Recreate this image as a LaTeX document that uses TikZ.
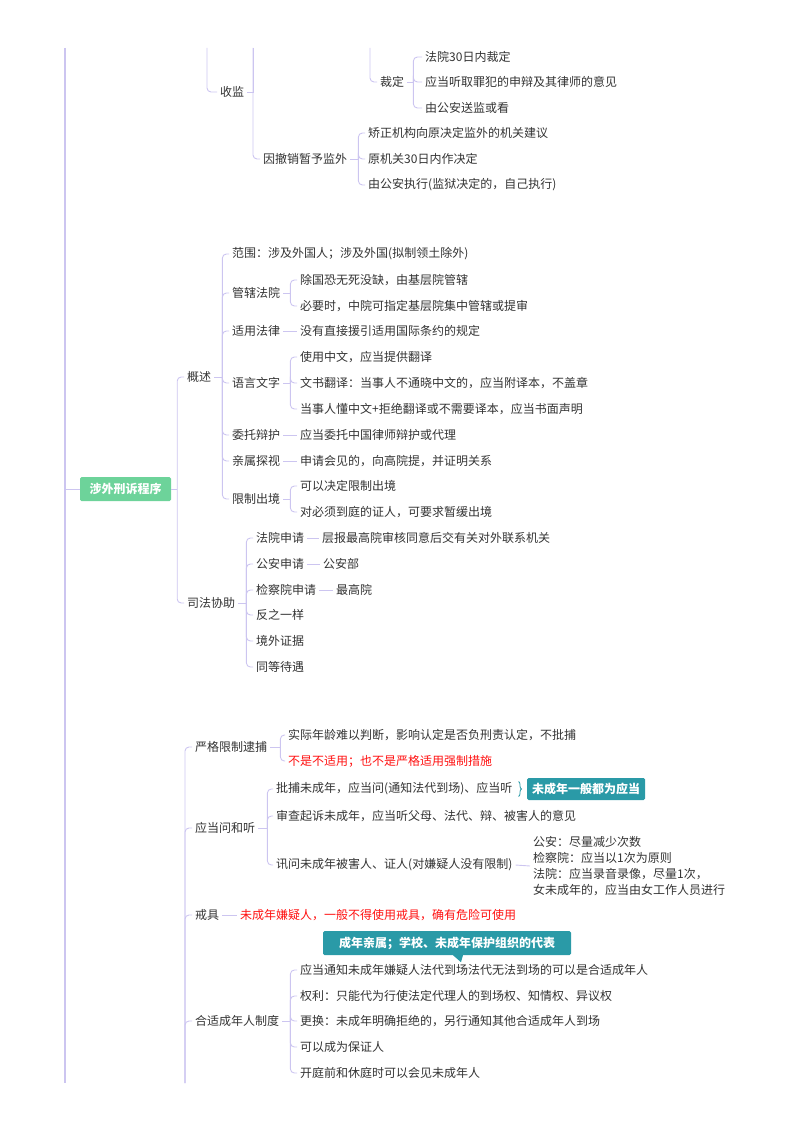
\documentclass[tikz,border=0pt]{standalone}
\usepackage{fontspec}
\newfontfamily\cjk{Noto Sans CJK SC}
\usepackage{tikz}
\usetikzlibrary{positioning,decorations.pathreplacing}
\usepackage{xcolor}
\definecolor{linecol}{HTML}{CCC5F0}
\definecolor{txtcol}{HTML}{333333}
\definecolor{rootgreen}{HTML}{6DD39A}
\definecolor{tealbox}{HTML}{2A9AA7}
\definecolor{hotred}{HTML}{FF1010}
\tikzset{
  topic/.style={anchor=west, inner xsep=3pt, inner ysep=2pt, text=txtcol,
    font=\cjk\fontsize{12}{14}\selectfont},
  redtopic/.style={topic, text=hotred},
  rootbox/.style={fill=rootgreen, rounded corners=1.5pt, text=white, inner sep=0pt,
    minimum width=91pt, minimum height=24pt, font=\cjk\bfseries\fontsize{12}{14}\selectfont},
  tagbox/.style={fill=tealbox, rounded corners=1.5pt, text=white, inner xsep=5pt,
    minimum height=22pt, font=\cjk\bfseries\fontsize{12}{14}\selectfont},
  branch/.style={draw=linecol, line width=0.9pt},
  elbow/.style={branch, rounded corners=4pt},
  trunk/.style={draw=linecol, line width=1.8pt},
}
\begin{document}
\begin{tikzpicture}[x=1pt, y=-1pt]
    \useasboundingbox (0,0) rectangle (800,1132);

    % Lines cut off by the page edge
    \coordinate (mtop)  at (65,48);
    \coordinate (mbot)  at (65,1083);
    \coordinate (sjtop) at (207,48);
    \coordinate (sjup)  at (253,48);
    \coordinate (cdtop) at (370,48);
    \coordinate (wbot)  at (185,1083);

    % Top part: shoujian
    \node[topic] (sj)  at (217,92)  {收监};
    \node[topic] (cd)  at (377,82)  {裁定};
    \node[topic] (cd1) at (422,57)  {法院30日内裁定};
    \node[topic] (cd2) at (422,82)  {应当听取罪犯的申辩及其律师的意见};
    \node[topic] (cd3) at (422,108) {由公安送监或看};
    \node[topic] (yc)  at (260,159) {因撤销暂予监外};
    \node[topic] (yc1) at (365,133) {矫正机构向原决定监外的机关建议};
    \node[topic] (yc2) at (365,159) {原机关30日内作决定};
    \node[topic] (yc3) at (365,185) {由公安执行(监狱决定的，自己执行)};

    % Root
    \node[rootbox] (rt) at (125.5,489) {涉外刑诉程序};
    \node[topic] (gs) at (184,377) {概述};
    \node[topic] (sf) at (184,603) {司法协助};

    % Gaishu
    \node[topic] (fw)  at (229,254) {范围：涉及外国人；涉及外国(拟制领土除外)};
    \node[topic] (gx)  at (229,293) {管辖法院};
    \node[topic] (gx1) at (297,280) {除国恐无死没缺，由基层院管辖};
    \node[topic] (gx2) at (297,306) {必要时，中院可指定基层院集中管辖或提审};
    \node[topic] (sy)  at (229,331) {适用法律};
    \node[topic] (sy1) at (297,331) {没有直接援引适用国际条约的规定};
    \node[topic] (yy)  at (229,383) {语言文字};
    \node[topic] (yy1) at (297,357) {使用中文，应当提供翻译};
    \node[topic] (yy2) at (297,383) {文书翻译：当事人不通晓中文的，应当附译本，不盖章};
    \node[topic] (yy3) at (297,409) {当事人懂中文+拒绝翻译或不需要译本，应当书面声明};
    \node[topic] (wt)  at (229,435) {委托辩护};
    \node[topic] (wt1) at (297,435) {应当委托中国律师辩护或代理};
    \node[topic] (qs)  at (229,461) {亲属探视};
    \node[topic] (qs1) at (297,461) {申请会见的，向高院提，并证明关系};
    \node[topic] (xz)  at (229,499) {限制出境};
    \node[topic] (xz1) at (297,486) {可以决定限制出境};
    \node[topic] (xz2) at (297,512) {对必须到庭的证人，可要求暂缓出境};

    % Sifa xiezhu
    \node[topic] (fy)  at (253,538) {法院申请};
    \node[topic] (fy1) at (319,538) {层报最高院审核同意后交有关对外联系机关};
    \node[topic] (ga)  at (253,564) {公安申请};
    \node[topic] (ga1) at (320,564) {公安部};
    \node[topic] (jc)  at (253,590) {检察院申请};
    \node[topic] (jc1) at (333,590) {最高院};
    \node[topic] (fz)  at (253,615) {反之一样};
    \node[topic] (jw)  at (253,641) {境外证据};
    \node[topic] (td)  at (253,667) {同等待遇};

    % Bottom part: weichengnian
    \node[topic] (yg)  at (192,747) {严格限制逮捕};
    \node[topic] (yg1) at (285,735) {实际年龄难以判断，影响认定是否负刑责认定，不批捕};
    \node[redtopic] (yg2) at (285,761) {不是不适用；也不是严格适用强制措施};
    \node[topic] (yw)  at (192,828) {应当问和听};
    \node[topic] (yw1) at (273,789) {批捕未成年，应当问(通知法代到场)、应当听};
    \node[tagbox, anchor=west] (tg) at (527,789) {未成年一般都为应当};
    \node[topic] (yw2) at (273,816) {审查起诉未成年，应当听父母、法代、辩、被害人的意见};
    \node[topic] (yw3) at (273,865) {讯问未成年被害人、证人(对嫌疑人没有限制)};
    \node[topic, align=left, font=\cjk\fontsize{12}{16}\selectfont] (yw4) at (530,866)
        {公安：尽量减少次数\\检察院：应当以1次为原则\\法院：应当录音录像，尽量1次，\\女未成年的，应当由女工作人员进行};
    \node[topic] (jj)  at (192,915) {戒具};
    \node[redtopic] (jj1) at (237,915) {未成年嫌疑人，一般不得使用戒具，确有危险可使用};
    \node[topic] (hs)  at (192,1021) {合适成年人制度};
    \node[topic] (hs1) at (297,970)  {应当通知未成年嫌疑人法代到场法代无法到场的可以是合适成年人};
    \node[topic] (hs2) at (297,996)  {权利：只能代为行使法定代理人的到场权、知情权、异议权};
    \node[topic] (hs3) at (297,1021) {更换：未成年明确拒绝的，另行通知其他合适成年人到场};
    \node[topic] (hs4) at (297,1047) {可以成为保证人};
    \node[topic] (hs5) at (297,1073) {开庭前和休庭时可以会见未成年人};
    \node[tagbox, minimum height=24pt, inner xsep=16pt] (note) at (447,943) {成年亲属；学校、未成年保护组织的代表};
    \fill[tealbox] ([xshift=6pt]note.south) -- ([xshift=16pt]note.south)
        -- ([xshift=14pt,yshift=-7pt]note.south) -- cycle;

    % Main trunk
    \draw[trunk] (mtop) -- (mbot);
    \draw[branch] (mtop |- rt.west) -- (rt.west);

    % Top links
    \draw[elbow] (sjtop) |- (sj.west);
    \draw[branch] (sjup) |- (sj.east);
    \draw[elbow] (sjup) |- (yc.west);
    \draw[elbow] (cdtop) |- (cd.west);
    \draw[branch] (cd.east) -- ++(6,0);
    \foreach \c in {cd1,cd2,cd3} \draw[elbow] (cd.east) ++(6,0) |- (\c.west);
    \draw[branch] (yc.east) -- ++(8,0);
    \foreach \c in {yc1,yc2,yc3} \draw[elbow] (yc.east) ++(8,0) |- (\c.west);

    % Root links
    \draw[branch] (rt.east) -- ++(6,0);
    \foreach \c in {gs,sf} \draw[elbow] (rt.east) ++(6,0) |- (\c.west);
    \draw[branch] (gs.east) -- ++(8,0);
    \foreach \c in {fw,gx,sy,yy,wt,qs,xz} \draw[elbow] (gs.east) ++(8,0) |- (\c.west);
    \draw[branch] (gx.east) -- ++(7,0);
    \foreach \c in {gx1,gx2} \draw[elbow] (gx.east) ++(7,0) |- (\c.west);
    \draw[branch] (sy.east) -- (sy1.west);
    \draw[branch] (yy.east) -- ++(7,0);
    \foreach \c in {yy1,yy2,yy3} \draw[elbow] (yy.east) ++(7,0) |- (\c.west);
    \draw[branch] (wt.east) -- (wt1.west);
    \draw[branch] (qs.east) -- (qs1.west);
    \draw[branch] (xz.east) -- ++(7,0);
    \foreach \c in {xz1,xz2} \draw[elbow] (xz.east) ++(7,0) |- (\c.west);
    \draw[branch] (sf.east) -- ++(8,0);
    \foreach \c in {fy,ga,jc,fz,jw,td} \draw[elbow] (sf.east) ++(8,0) |- (\c.west);
    \draw[branch] (fy.east) -- (fy1.west);
    \draw[branch] (ga.east) -- (ga1.west);
    \draw[branch] (jc.east) -- (jc1.west);

    % Bottom links
    \foreach \c in {yg,yw,jj,hs} \draw[elbow] (wbot) |- (\c.west);
    \draw[branch] (yg.east) -- ++(10,0);
    \foreach \c in {yg1,yg2} \draw[elbow] (yg.east) ++(10,0) |- (\c.west);
    \draw[branch] (yw.east) -- ++(9,0);
    \foreach \c in {yw1,yw2,yw3} \draw[elbow] (yw.east) ++(9,0) |- (\c.west);
    \draw[tealbox, line width=0.8pt, decorate, decoration={brace, amplitude=3pt}]
        ([xshift=3pt,yshift=-1pt]yw1.north east) -- ([xshift=3pt,yshift=1pt]yw1.south east);
    \draw[branch] (yw3.east) -- (yw4.west);
    \draw[branch] (jj.east) -- (jj1.west);
    \draw[branch] (hs.east) -- ++(8,0);
    \foreach \c in {hs1,hs2,hs3,hs4,hs5} \draw[elbow] (hs.east) ++(8,0) |- (\c.west);
\end{tikzpicture}
\end{document}
